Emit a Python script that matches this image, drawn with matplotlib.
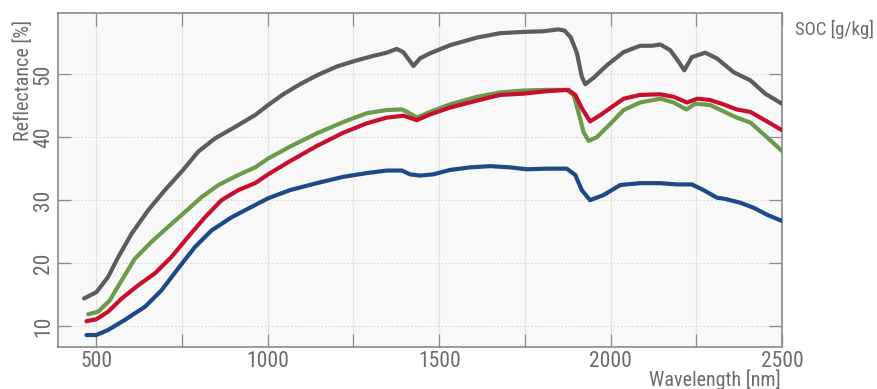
import matplotlib
matplotlib.use("Agg")
import matplotlib.pyplot as plt
from matplotlib import font_manager

# Reflectance spectra for four soil samples (wavelength in nm, reflectance in %)
wl_gray = [464, 500, 534, 564, 603, 651, 700, 753, 797, 846, 904, 963, 1001, 1045,
           1094, 1143, 1201, 1254, 1308, 1347, 1376, 1395, 1425, 1444, 1473, 1532,
           1610, 1678, 1746, 1804, 1848, 1866, 1884, 1902, 1916, 1926, 1950, 1989,
           2038, 2086, 2121, 2145, 2174, 2198, 2215, 2237, 2276, 2310, 2359, 2408,
           2451, 2500]
r_gray = [14.4, 15.4, 17.8, 21.0, 24.7, 28.4, 31.6, 34.8, 37.7, 39.8, 41.6, 43.5, 45.1, 46.8,
          48.4, 49.8, 51.2, 52.1, 52.9, 53.4, 54.0, 53.5, 51.3, 52.5, 53.3, 54.6,
          55.8, 56.5, 56.7, 56.8, 57.1, 56.9, 55.8, 53.3, 49.6, 48.4, 49.4, 51.4,
          53.5, 54.5, 54.5, 54.7, 53.8, 52.0, 50.6, 52.7, 53.4, 52.5, 50.3, 49.0,
          46.9, 45.3]

wl_green = [476, 505, 539, 574, 612, 661, 710, 758, 807, 856, 914, 963, 1001, 1065,
            1143, 1220, 1289, 1347, 1391, 1410, 1435, 1473, 1532, 1610, 1678, 1746,
            1814, 1872, 1892, 1906, 1921, 1936, 1960, 1999, 2038, 2086, 2145, 2184,
            2221, 2247, 2290, 2329, 2368, 2408, 2456, 2500]
r_green = [11.9, 12.3, 14.1, 17.3, 20.7, 23.4, 25.8, 28.1, 30.5, 32.4, 34.0, 35.2, 36.6, 38.5,
           40.6, 42.4, 43.8, 44.3, 44.4, 43.9, 43.1, 44.0, 45.2, 46.4, 47.1, 47.4,
           47.5, 47.5, 46.7, 44.0, 40.8, 39.4, 40.0, 42.1, 44.3, 45.5, 46.1, 45.5,
           44.4, 45.3, 45.1, 44.1, 43.1, 42.3, 40.0, 37.8]

wl_red = [471, 500, 534, 574, 622, 671, 719, 768, 817, 865, 914, 963, 1001, 1065,
          1143, 1220, 1289, 1347, 1396, 1435, 1473, 1532, 1610, 1678, 1746, 1814,
          1877, 1897, 1916, 1940, 1970, 2009, 2038, 2086, 2145, 2184, 2223, 2253,
          2290, 2329, 2368, 2408, 2456, 2500]
r_red = [10.8, 11.1, 12.3, 14.4, 16.5, 18.4, 21.0, 24.2, 27.3, 30.0, 31.6, 32.7, 34.1, 36.2,
         38.6, 40.7, 42.2, 43.1, 43.4, 42.7, 43.6, 44.7, 45.8, 46.7, 46.9, 47.3,
         47.5, 46.7, 44.6, 42.5, 43.5, 45.0, 46.1, 46.7, 46.8, 46.4, 45.5, 46.1,
         45.9, 45.2, 44.4, 44.0, 42.5, 41.1]

wl_blue = [471, 500, 534, 583, 642, 690, 739, 788, 836, 895, 955, 1001, 1065, 1143,
           1220, 1289, 1347, 1391, 1415, 1444, 1483, 1532, 1590, 1649, 1707, 1756,
           1814, 1872, 1897, 1916, 1940, 1979, 2028, 2086, 2145, 2193, 2237, 2271,
           2310, 2334, 2378, 2417, 2456, 2500]
r_blue = [8.6, 8.6, 9.4, 11.0, 13.1, 15.7, 19.2, 22.6, 25.2, 27.3, 29.0, 30.3, 31.6, 32.7,
          33.7, 34.3, 34.7, 34.7, 34.1, 33.9, 34.1, 34.8, 35.2, 35.4, 35.2, 34.9,
          35.0, 35.0, 34.0, 31.6, 30.0, 30.8, 32.4, 32.7, 32.7, 32.5, 32.5, 31.6,
          30.4, 30.2, 29.6, 28.8, 27.7, 26.7]

x_tick_labels = [500, 1000, 1500, 2000, 2500]
y_tick_labels = [10, 20, 30, 40, 50]

# Pick a narrow sans face if one is installed
available = {f.name for f in font_manager.fontManager.ttflist}
family = "DejaVu Sans"
for cand in ["Roboto Condensed", "Liberation Sans Narrow", "DejaVu Sans Condensed",
             "Open Sans Condensed", "Lato", "Roboto"]:
    if cand in available:
        family = cand
        break
plt.rcParams["font.family"] = [family, "DejaVu Sans"]

text_color = "#6b6b6b"
spine_color = "#8a8a8a"

fig = plt.figure(figsize=(8.77, 3.89), dpi=100)
ax = fig.add_axes([58 / 877, 1 - 347 / 389, (782 - 58) / 877, (347 - 13) / 389])
ax.set_facecolor("#f8f8f8")

series = [
    (wl_gray, r_gray, "#5c5c5c"),
    (wl_green, r_green, "#6b9a4b"),
    (wl_red, r_red, "#c8102e"),
    (wl_blue, r_blue, "#1d4a86"),
]
for wl, r, color in series:
    ax.plot(wl, r, color=color, lw=3.0, solid_joinstyle="round",
            solid_capstyle="round", zorder=3)

ax.set_xlim(388, 2500)
ax.set_ylim(6.7, 59.7)

x_ticks = list(range(500, 2501, 250))
ax.set_xticks(x_ticks)
ax.set_xticklabels([str(v) if v in x_tick_labels else "" for v in x_ticks])
ax.set_yticks(y_tick_labels)
ax.set_yticklabels([str(v) for v in y_tick_labels], rotation=90, va="center")

ax.tick_params(axis="both", which="major", direction="in", length=9.5, width=0.9,
               color=spine_color, labelcolor=text_color, labelsize=15.5,
               top=True, right=True)
ax.tick_params(axis="x", pad=3)
ax.tick_params(axis="y", pad=3)

ax.grid(axis="x", color="#e3e3e3", lw=0.9, ls="-", zorder=0)
ax.grid(axis="y", color="#dcdcdc", lw=0.9, ls=(0, (1.5, 1.5)), zorder=0)

for s in ax.spines.values():
    s.set_color(spine_color)
    s.set_linewidth(1.2)

ax.set_ylabel("Reflectance [%]", color=text_color, fontsize=14.5, loc="top")
ax.yaxis.set_label_coords(-0.034, 0.979)
ax.set_xlabel("Wavelength [nm]", color=text_color, fontsize=14.5, loc="right")
ax.xaxis.set_label_coords(0.998, -0.066)

fig.text(874 / 877, 1 - 29 / 389, "SOC [g/kg]", color=text_color, fontsize=13.5,
         ha="right", va="center")

fig.savefig("out.png", dpi=100)
